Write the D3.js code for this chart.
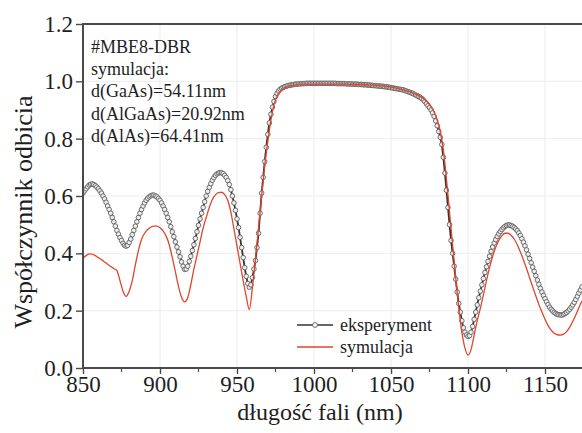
<!DOCTYPE html>
<html><head><meta charset="utf-8">
<script src="https://cdn.jsdelivr.net/npm/d3@7"></script>
<style>
html,body{margin:0;padding:0;background:#fff;}
svg text{font-family:"Liberation Serif","Tinos","Times New Roman","DejaVu Serif","Noto Serif",Times,serif !important;}
</style></head>
<body><svg id="c" width="582" height="433"></svg>
<script>
// ---- data ----
const expStart = 850, expStep = 1;
const expValues = [
0.610,0.618,0.625,0.632,0.638,0.641,0.642,0.640,0.636,0.631,
0.625,0.618,0.610,0.600,0.590,0.578,0.565,0.553,0.540,0.525,
0.510,0.495,0.480,0.467,0.455,0.445,0.435,0.428,0.425,0.428,
0.438,0.450,0.465,0.480,0.495,0.510,0.525,0.540,0.553,0.565,
0.576,0.585,0.592,0.597,0.601,0.603,0.603,0.600,0.597,0.591,
0.585,0.576,0.565,0.553,0.540,0.525,0.510,0.493,0.475,0.458,
0.440,0.422,0.405,0.388,0.370,0.355,0.344,0.345,0.355,0.372,
0.390,0.410,0.430,0.452,0.475,0.498,0.520,0.540,0.560,0.580,
0.600,0.616,0.630,0.643,0.655,0.664,0.672,0.677,0.680,0.682,
0.681,0.678,0.672,0.665,0.654,0.640,0.622,0.600,0.576,0.550,
0.520,0.490,0.456,0.420,0.385,0.350,0.320,0.295,0.282,0.290,
0.315,0.345,0.375,0.420,0.470,0.540,0.610,0.665,0.720,0.770,
0.815,0.855,0.885,0.910,0.930,0.947,0.958,0.966,0.972,0.976,
0.979,0.981,0.983,0.985,0.986,0.987,0.988,0.989,0.990,0.990,
0.991,0.991,0.992,0.992,0.992,0.993,0.993,0.993,0.993,0.993,
0.993,0.993,0.993,0.993,0.993,0.993,0.993,0.993,0.993,0.993,
0.993,0.993,0.993,0.993,0.993,0.992,0.992,0.992,0.992,0.992,
0.992,0.991,0.991,0.991,0.991,0.990,0.990,0.990,0.990,0.989,
0.989,0.989,0.988,0.988,0.988,0.987,0.987,0.986,0.986,0.985,
0.985,0.984,0.984,0.983,0.983,0.982,0.981,0.981,0.980,0.979,
0.978,0.977,0.976,0.975,0.974,0.973,0.972,0.971,0.970,0.968,
0.966,0.964,0.962,0.960,0.958,0.955,0.952,0.950,0.947,0.944,
0.940,0.935,0.929,0.922,0.915,0.908,0.900,0.890,0.878,0.862,
0.845,0.825,0.805,0.780,0.735,0.680,0.620,0.560,0.500,0.445,
0.400,0.355,0.310,0.265,0.225,0.195,0.165,0.140,0.125,0.115,
0.110,0.113,0.125,0.145,0.170,0.195,0.220,0.245,0.268,0.290,
0.312,0.333,0.353,0.372,0.390,0.407,0.422,0.436,0.448,0.459,
0.468,0.476,0.483,0.489,0.494,0.497,0.499,0.499,0.497,0.494,
0.490,0.485,0.479,0.471,0.462,0.451,0.439,0.426,0.412,0.397,
0.382,0.367,0.352,0.337,0.322,0.307,0.292,0.278,0.265,0.253,
0.242,0.231,0.221,0.212,0.205,0.199,0.194,0.190,0.187,0.186,
0.185,0.185,0.187,0.190,0.194,0.199,0.205,0.212,0.220,0.229,
0.239,0.250,0.261,0.272,0.283
];
const simStart = 850, simStep = 2;
const simValues = [
0.383,0.392,0.398,0.397,0.392,
0.385,0.378,0.370,0.362,0.354,
0.347,0.340,0.305,0.268,0.250,
0.268,0.305,0.360,0.410,0.448,
0.470,0.483,0.491,0.495,0.495,
0.489,0.478,0.460,0.430,0.385,
0.335,0.285,0.247,0.231,0.245,
0.290,0.345,0.392,0.440,0.488,
0.525,0.560,0.588,0.604,0.612,
0.613,0.605,0.585,0.545,0.485,
0.425,0.365,0.305,0.250,0.203,
0.280,0.380,0.490,0.600,0.705,
0.790,0.865,0.918,0.948,0.965,
0.975,0.980,0.984,0.986,0.988,
0.989,0.990,0.990,0.990,0.990,
0.990,0.990,0.990,0.990,0.990,
0.990,0.990,0.990,0.990,0.990,
0.990,0.990,0.989,0.989,0.989,
0.989,0.988,0.988,0.987,0.987,
0.986,0.985,0.984,0.983,0.982,
0.980,0.978,0.976,0.973,0.970,
0.967,0.964,0.960,0.955,0.950,
0.944,0.936,0.926,0.912,0.893,
0.865,0.825,0.760,0.660,0.545,
0.430,0.315,0.210,0.125,0.070,
0.045,0.065,0.115,0.165,0.208,
0.255,0.305,0.350,0.390,0.421,
0.445,0.461,0.470,0.470,0.463,
0.450,0.430,0.405,0.377,0.347,
0.315,0.283,0.252,0.222,0.195,
0.170,0.148,0.132,0.121,0.116,
0.115,0.118,0.127,0.142,0.162,
0.185,0.210,0.235
];
const xTicks = [850, 900, 950, 1000, 1050, 1100, 1150];
const xMinorTicks = [875, 925, 975, 1025, 1075, 1125, 1175];
const yTicks = [0.0, 0.2, 0.4, 0.6, 0.8, 1.0, 1.2];
const annotationLines = ["#MBE8-DBR", "symulacja:", "d(GaAs)=54.11nm", "d(AlGaAs)=20.92nm", "d(AlAs)=64.41nm"];
const legendLabels = ["eksperyment", "symulacja"];
const xTitle = "długość fali (nm)";
const yTitle = "Współczynnik odbicia";

// ---- build ----
const exp = expValues.map((v,i)=>({x:expStart+i*expStep, y:v}));
const sim = simValues.map((v,i)=>({x:simStart+i*simStep, y:v}));

const svg = d3.select("#c");
const L = 83, T = 24, B = 368;
const x = d3.scaleLinear().domain([850, 1180]).range([L, L + 330*1.54]);
const y = d3.scaleLinear().domain([0, 1.2]).range([B, T]);
const R = 582;

const axisCol = "#4a4a4a";
const gridCol = "#ececec";
const textCol = "#1e1e1e";

// grid
const grid = svg.append("g");
grid.selectAll("line.vg").data(xTicks.slice(1)).join("line")
  .attr("x1", d=>x(d)).attr("x2", d=>x(d)).attr("y1", T).attr("y2", B)
  .attr("stroke", gridCol).attr("stroke-width", 1);
grid.selectAll("line.hg").data(yTicks.slice(1, -1)).join("line")
  .attr("x1", L).attr("x2", R).attr("y1", d=>y(d)).attr("y2", d=>y(d))
  .attr("stroke", gridCol).attr("stroke-width", 1);

// clip
svg.append("clipPath").attr("id","pc").append("rect")
  .attr("x", L).attr("y", T).attr("width", R-L+10).attr("height", B-T);

const plot = svg.append("g").attr("clip-path","url(#pc)");

// experiment line + circles
plot.append("path").datum(exp)
  .attr("d", d3.line().x(d=>x(d.x)).y(d=>y(d.y)))
  .attr("fill","none").attr("stroke","#333").attr("stroke-width",1.8);
plot.append("g").selectAll("circle").data(exp).join("circle")
  .attr("cx", d=>x(d.x)).attr("cy", d=>y(d.y)).attr("r", 2.3)
  .attr("fill","#eeeeee").attr("stroke","#5e5e5e").attr("stroke-width",0.9);

// simulation line
plot.append("path").datum(sim)
  .attr("d", d3.line().x(d=>x(d.x)).y(d=>y(d.y)).curve(d3.curveMonotoneX))
  .attr("fill","none").attr("stroke","#e0452d").attr("stroke-width",1.3);

// axes
const xAxis = d3.axisBottom(x).tickValues(xTicks).tickSize(6).tickPadding(2).tickFormat(d3.format("d"));
const gx = svg.append("g").attr("transform",`translate(0,${B})`).call(xAxis);
gx.select(".domain").remove();
gx.selectAll(".tick line").attr("stroke", axisCol).attr("stroke-width",1.4);
gx.selectAll(".tick text").attr("font-size", 23).attr("fill",textCol);
svg.append("g").selectAll("line").data(xMinorTicks).join("line")
  .attr("x1", d=>x(d)).attr("x2", d=>x(d)).attr("y1", B).attr("y2", B+4)
  .attr("stroke", axisCol).attr("stroke-width",1.2);

const yAxis = d3.axisLeft(y).tickValues(yTicks).tickSize(7).tickPadding(3).tickFormat(d3.format(".1f"));
const gy = svg.append("g").attr("transform",`translate(${L},0)`).call(yAxis);
gy.select(".domain").remove();
gy.selectAll(".tick line").attr("stroke", axisCol).attr("stroke-width",1.4);
gy.selectAll(".tick text").attr("font-size", 23).attr("fill",textCol);

// frame lines
svg.append("line").attr("x1",L).attr("x2",R).attr("y1",B).attr("y2",B).attr("stroke",axisCol).attr("stroke-width",2);
svg.append("line").attr("x1",L).attr("x2",R).attr("y1",T).attr("y2",T).attr("stroke",axisCol).attr("stroke-width",2);
svg.append("line").attr("x1",L).attr("x2",L).attr("y1",T-1).attr("y2",B+1).attr("stroke",axisCol).attr("stroke-width",2);

// titles
svg.append("text").attr("x", 320).attr("y", 420).attr("text-anchor","middle")
  .attr("font-size", 24).attr("fill",textCol).text(xTitle);
svg.append("text").attr("transform","translate(32,212) rotate(-90)").attr("text-anchor","middle")
  .attr("font-size", 26).attr("fill",textCol).text(yTitle);

// annotation
svg.append("g").selectAll("text").data(annotationLines).join("text")
  .attr("x", 91).attr("y", (d,i)=>53 + i*22.2)
  .attr("font-size", 18).attr("fill",textCol).text(d=>d);

// legend
const lg = svg.append("g");
lg.append("line").attr("x1",297).attr("x2",333).attr("y1",325).attr("y2",325).attr("stroke","#333").attr("stroke-width",1.4);
lg.append("circle").attr("cx",315).attr("cy",325).attr("r",2.4).attr("fill","#fff").attr("stroke","#6a6a6a").attr("stroke-width",1);
lg.append("line").attr("x1",297).attr("x2",333).attr("y1",347).attr("y2",347).attr("stroke","#e0452d").attr("stroke-width",1.4);
lg.selectAll("text").data(legendLabels).join("text")
  .attr("x", 340).attr("y",(d,i)=>331 + i*22)
  .attr("font-size", 18).attr("fill",textCol).text(d=>d);
</script></body></html>
